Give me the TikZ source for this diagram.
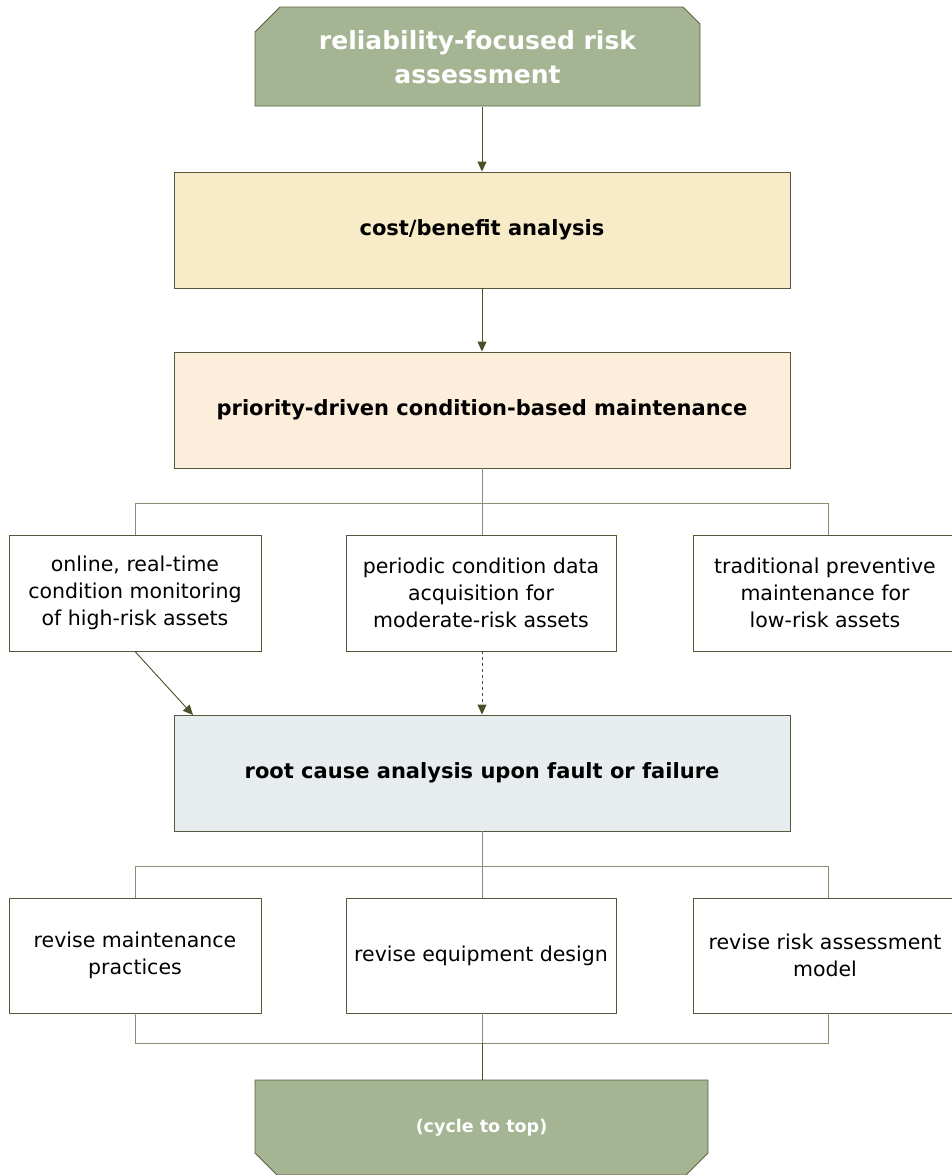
\documentclass[tikz,border=0pt]{standalone}
\usepackage{fontspec}
\setmainfont{DejaVu Sans}
\usetikzlibrary{arrows.meta,calc}
\definecolor{sage}{HTML}{A5B492}
\definecolor{sageedge}{HTML}{5B6341}
\definecolor{yel}{HTML}{F8ECC8}
\definecolor{peach}{HTML}{FDEEDC}
\definecolor{bluegray}{HTML}{E7ECEF}
\definecolor{boxedge}{HTML}{55593A}
\definecolor{treeline}{HTML}{8C8E74}
\definecolor{arrowc}{HTML}{4A5028}
\tikzset{
  plainbox/.style={draw=boxedge, line width=0.9pt, fill=white, align=center, inner sep=1pt, font=\fontsize{20.5}{27}\selectfont},
  bigbox/.style={draw=boxedge, line width=0.9pt, align=center, minimum width=616pt, minimum height=116pt, font=\bfseries\fontsize{21}{26}\selectfont},
  tree/.style={draw=treeline, line width=1pt},
  arr/.style={draw=arrowc, line width=0.9pt, -{Triangle[width=9pt,length=10pt]}},
  greentext/.style={text=white, align=center, inner sep=0pt},
}
\begin{document}
\begin{tikzpicture}[x=1pt,y=-1pt]
\useasboundingbox (0,0) rectangle (952,1175);
% top chamfered node
\fill[sage, draw=sageedge, line width=0.9pt] (255,106) -- (255,32) -- (280,7) -- (683,7) -- (700,24) -- (700,106) -- cycle;
\node[greentext, minimum width=445pt, minimum height=99pt, font=\bfseries\fontsize{25}{34}\selectfont] (top) at (477.5,57) {reliability-focused risk\\assessment};
% bottom chamfered node
\fill[sage, draw=sageedge, line width=0.9pt] (255,1080) -- (708,1080) -- (708,1153) -- (686,1175) -- (277,1175) -- (255,1153) -- cycle;
\node[greentext, minimum width=453pt, minimum height=95pt, font=\bfseries\fontsize{17.5}{21}\selectfont] (bottom) at (481.5,1127.5) {(cycle to top)};

\node[bigbox, fill=yel] (cba) at (482,230) {cost/benefit analysis};
\node[bigbox, fill=peach] (pdm) at (482,410) {priority-driven condition-based maintenance};

\node[plainbox, minimum width=252pt, minimum height=116pt] (online) at (135,593) {online, real-time\\condition monitoring\\of high-risk assets};
\node[plainbox, minimum width=270pt, minimum height=116pt] (periodic) at (481,593) {periodic condition data\\acquisition for\\moderate-risk assets};
\node[plainbox, minimum width=264pt, minimum height=116pt] (trad) at (825,593) {traditional preventive\\maintenance for\\low-risk assets};

\node[bigbox, fill=bluegray] (rca) at (482,773) {root cause analysis upon fault or failure};

\node[plainbox, minimum width=252pt, minimum height=115pt] (rmp) at (135,955.5) {revise maintenance\\practices};
\node[plainbox, minimum width=270pt, minimum height=115pt] (red) at (481,955.5) {revise equipment design};
\node[plainbox, minimum width=264pt, minimum height=115pt] (rra) at (825,955.5) {revise risk assessment\\model};

% connectors
\draw[arr] (top.south -| cba.north) -- (cba.north);
\draw[arr] (cba.south) -- (pdm.north);

\coordinate (j1) at (482,503);
\coordinate (r1) at (828,503);
\draw[tree] (pdm.south) -- (j1);
\draw[tree] (online.north) |- (r1) -- (r1 |- trad.north);
\draw[tree] (j1) -- (j1 |- periodic.north);

\coordinate (rcaL) at (193,715);
\draw[arr] (online.south) -- (rcaL);
\draw[arr, dashed] (periodic.south -| rca.north) -- (rca.north);

\coordinate (j2) at (482,866);
\coordinate (r2) at (828,866);
\draw[tree] (rca.south) -- (j2);
\draw[tree] (rmp.north) |- (r2) -- (r2 |- rra.north);
\draw[tree] (j2) -- (j2 |- red.north);

\coordinate (j3) at (482,1043);
\coordinate (r3) at (828,1043);
\draw[tree] (rmp.south) |- (r3) -- (r3 |- rra.south);
\draw[tree] (j3 |- red.south) -- (j3);
\draw[draw=arrowc, line width=0.9pt] (j3) -- (j3 |- bottom.north);
\end{tikzpicture}
\end{document}
